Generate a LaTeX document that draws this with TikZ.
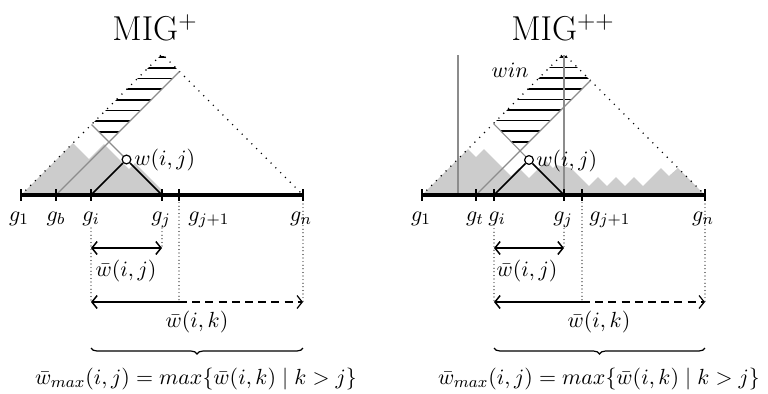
\documentclass[tikz,border=0pt]{standalone}
\usetikzlibrary{arrows.meta,decorations.pathreplacing}
\begin{document}
\begin{tikzpicture}[x=0.5pt,y=-0.5pt,
  lbl/.style={font=\fontsize{11.4}{13}\selectfont, inner sep=0pt},
  ttl/.style={font=\fontsize{17.28}{20}\selectfont, inner sep=0pt},
  mount/.style={fill=black!20, draw=none},
  bigdots/.style={line width=0.8pt, dash pattern=on 0pt off 3.4pt, line cap=round},
  vdots/.style={line width=0.6pt, dash pattern=on 0pt off 1.8pt, line cap=round},
  glines/.style={draw=black!45, line width=0.55pt},
  blines/.style={draw=black, line width=0.75pt},
  hatchln/.style={line width=0.8pt},
  axisln/.style={line width=1.7pt},
  tickln/.style={line width=1.4pt},
  barb/.tip={Straight Barb[length=2.6pt,width=6.5pt]},
  dimarr/.style={line width=0.75pt},
  dashln/.style={line width=0.6pt, dash pattern=on 4pt off 2.6pt},
  wnode/.style={circle, draw=black, fill=white, line width=0.6pt, inner sep=0pt, minimum size=4.4pt},
  brc/.style={decorate, decoration={brace, amplitude=3pt}, line width=0.6pt}
]
\useasboundingbox (0,0) rectangle (768,393);

% ================= LEFT PANEL =================
\coordinate (Lg1) at (21,195);
\coordinate (Lgb) at (56,195);
\coordinate (Lgi) at (91,195);
\coordinate (Lgj) at (162,195);
\coordinate (Lgk) at (179,195);
\coordinate (Lgn) at (303,195);
\coordinate (Lapex) at (162,54);
\coordinate (Lwl) at (91.5,124.5);
\coordinate (Lx) at (109,142);
\coordinate (Lbr) at (179.5,71.5);

% mountains
\fill[mount] (21,195) -- (73,143) -- (89,159) -- (104,144) -- (129,169) -- (135,163) -- (162,190) -- (162,195) -- cycle;

% hatching
\begin{scope}
\clip (Lwl) -- (Lx) -- (Lbr) -- (Lapex) -- cycle;
\foreach \yy in {57,67.7,78.3,89,99.7,110.3,121,131.7}
  \draw[hatchln] (0,\yy) -- (768,\yy);
\end{scope}

% big dotted triangle
\draw[bigdots] (Lg1) -- (Lapex) -- (Lgn);

% gray lines
\draw[glines] (Lgb) -- (Lbr);
\draw[glines] (Lwl) -- (126.5,159.5);

% black legs and circle
\node[wnode] (Lw) at (126.5,159.5) {};
\draw[blines] (Lgi) -- (Lw);
\draw[blines] (Lgj) -- (Lw);
\node[lbl, anchor=west] (Lwlab) at (134,160) {$w(i,j)$};

% axis
\draw[axisln] (Lg1) -- (Lgn);
\foreach \c in {Lg1,Lgb,Lgi,Lgj,Lgk,Lgn}
  \draw[tickln] ([yshift=3pt]\c) -- ([yshift=-3pt]\c);

% axis labels
\node[lbl, anchor=base] (Ll1) at (19,221) {$g_1$};
\node[lbl, anchor=base] (Llb) at (56,221) {$g_b$};
\node[lbl, anchor=base] (Lli) at (91,221) {$g_i$};
\node[lbl, anchor=base] (Llj) at (161,221) {$g_j$};
\node[lbl, anchor=base west] (Llk) at (188,221) {$g_{j+1}$};
\node[lbl, anchor=base] (Lln) at (301,221) {$g_n$};

% vertical dotted lines
\coordinate (Lai) at (91,248);
\coordinate (Laj) at (162,248);
\coordinate (Lbi) at (91,302);
\coordinate (Lbk) at (179,302);
\coordinate (Lbn) at (303,302);
\draw[vdots] (91,228) -- (Lbi);
\draw[vdots] (162,228) -- (Laj);
\draw[vdots] (179,199) -- (Lbk);
\draw[vdots] (303,204) -- (Lbn);

% dimension arrows
\draw[dimarr, barb-barb] (Lai) -- (Laj);
\node[lbl] (Ldij) at (126,271) {$\bar{w}(i,j)$};
\draw[dimarr, barb-] (Lbi) -- (Lbk);
\draw[dashln, -barb] (Lbk) -- (Lbn);
\node[lbl] (Ldik) at (197,322) {$\bar{w}(i,k)$};

% brace and formula
\coordinate (Lbrl) at (91,348);
\coordinate (Lbrr) at (303,348);
\draw[brc] (Lbrr) -- (Lbrl);
\node[lbl] (Lform) at (196,379) {$\bar{w}_{max}(i,j) = max\{\bar{w}(i,k) \mid k > j\}$};

\node[ttl] (Ltitle) at (155,28) {MIG$^{+}$};

% ================= RIGHT PANEL =================
\coordinate (Rg1) at (422,195);
\coordinate (Rgt) at (476,195);
\coordinate (Rgi) at (494,195);
\coordinate (Rgj) at (564,195);
\coordinate (Rgk) at (582,195);
\coordinate (Rgn) at (705,195);
\coordinate (Rapex) at (563.5,53.5);
\coordinate (Rwl) at (493.5,123.5);
\coordinate (Rx) at (520,151);
\coordinate (Rbr) at (590.5,80.5);

% mountains
\fill[mount] (422,195) -- (468,149) -- (476,157) -- (484,149) -- (511,176) -- (519,168) -- (529,178) -- (546,161) -- (553,168) -- (556,165) -- (571,168) -- (589,186) -- (598,177) -- (607,186) -- (616,177) -- (625,186) -- (634,177) -- (643,186) -- (661,168) -- (669,176) -- (678,168) -- (705,195) -- cycle;

% hatching
\begin{scope}
\clip (Rwl) -- (Rx) -- (Rbr) -- (Rapex) -- cycle;
\foreach \yy in {57,67.6,78.2,88.8,99.4,110,120.6,131.2,141.8}
  \draw[hatchln] (384,\yy) -- (768,\yy);
\end{scope}

% big dotted triangle
\draw[bigdots] (Rg1) -- (Rapex) -- (Rgn);

% gray lines
\coordinate (Rv1t) at (458,55);
\coordinate (Rv1b) at (458,195);
\coordinate (Rv2t) at (564,55);
\draw[glines] (Rv1t) -- (Rv1b);
\draw[glines] (Rv2t) -- (Rgj);
\draw[glines] (Rgt) -- (Rbr);
\draw[glines] (Rwl) -- (529,160);

\node[wnode] (Rw) at (529,160) {};
\draw[blines] (Rgi) -- (Rw);
\draw[blines] (Rgj) -- (Rw);
\node[lbl, anchor=west] (Rwlab) at (536,161) {$w(i,j)$};
\node[lbl, anchor=base] (Rwin) at (510,77) {$win$};

% axis
\draw[axisln] (Rg1) -- (Rgn);
\foreach \c in {Rg1,Rgt,Rgi,Rgj,Rgk,Rgn}
  \draw[tickln] ([yshift=3pt]\c) -- ([yshift=-3pt]\c);

\node[lbl, anchor=base] (Rl1) at (421,221) {$g_1$};
\node[lbl, anchor=base] (Rlt) at (475,221) {$g_t$};
\node[lbl, anchor=base] (Rli) at (497,221) {$g_i$};
\node[lbl, anchor=base] (Rlj) at (563,221) {$g_j$};
\node[lbl, anchor=base west] (Rlk) at (589,221) {$g_{j+1}$};
\node[lbl, anchor=base] (Rln) at (703,221) {$g_n$};

\coordinate (Rai) at (494,248);
\coordinate (Raj) at (564,248);
\coordinate (Rbi) at (494,302);
\coordinate (Rbk) at (582,302);
\coordinate (Rbn) at (705,302);
\draw[vdots] (494,225) -- (Rbi);
\draw[vdots] (564,225) -- (Raj);
\draw[vdots] (582,199) -- (Rbk);
\draw[vdots] (705,204) -- (Rbn);

\draw[dimarr, barb-barb] (Rai) -- (Raj);
\node[lbl] (Rdij) at (527,271) {$\bar{w}(i,j)$};
\draw[dimarr, barb-] (Rbi) -- (Rbk);
\draw[dashln, -barb] (Rbk) -- (Rbn);
\node[lbl] (Rdik) at (599,322) {$\bar{w}(i,k)$};

\coordinate (Rbrl) at (494,348);
\coordinate (Rbrr) at (705,348);
\draw[brc] (Rbrr) -- (Rbrl);
\node[lbl] (Rform) at (599,379) {$\bar{w}_{max}(i,j) = max\{\bar{w}(i,k) \mid k > j\}$};

\node[ttl] (Rtitle) at (563,28) {MIG$^{++}$};
\end{tikzpicture}
\end{document}
